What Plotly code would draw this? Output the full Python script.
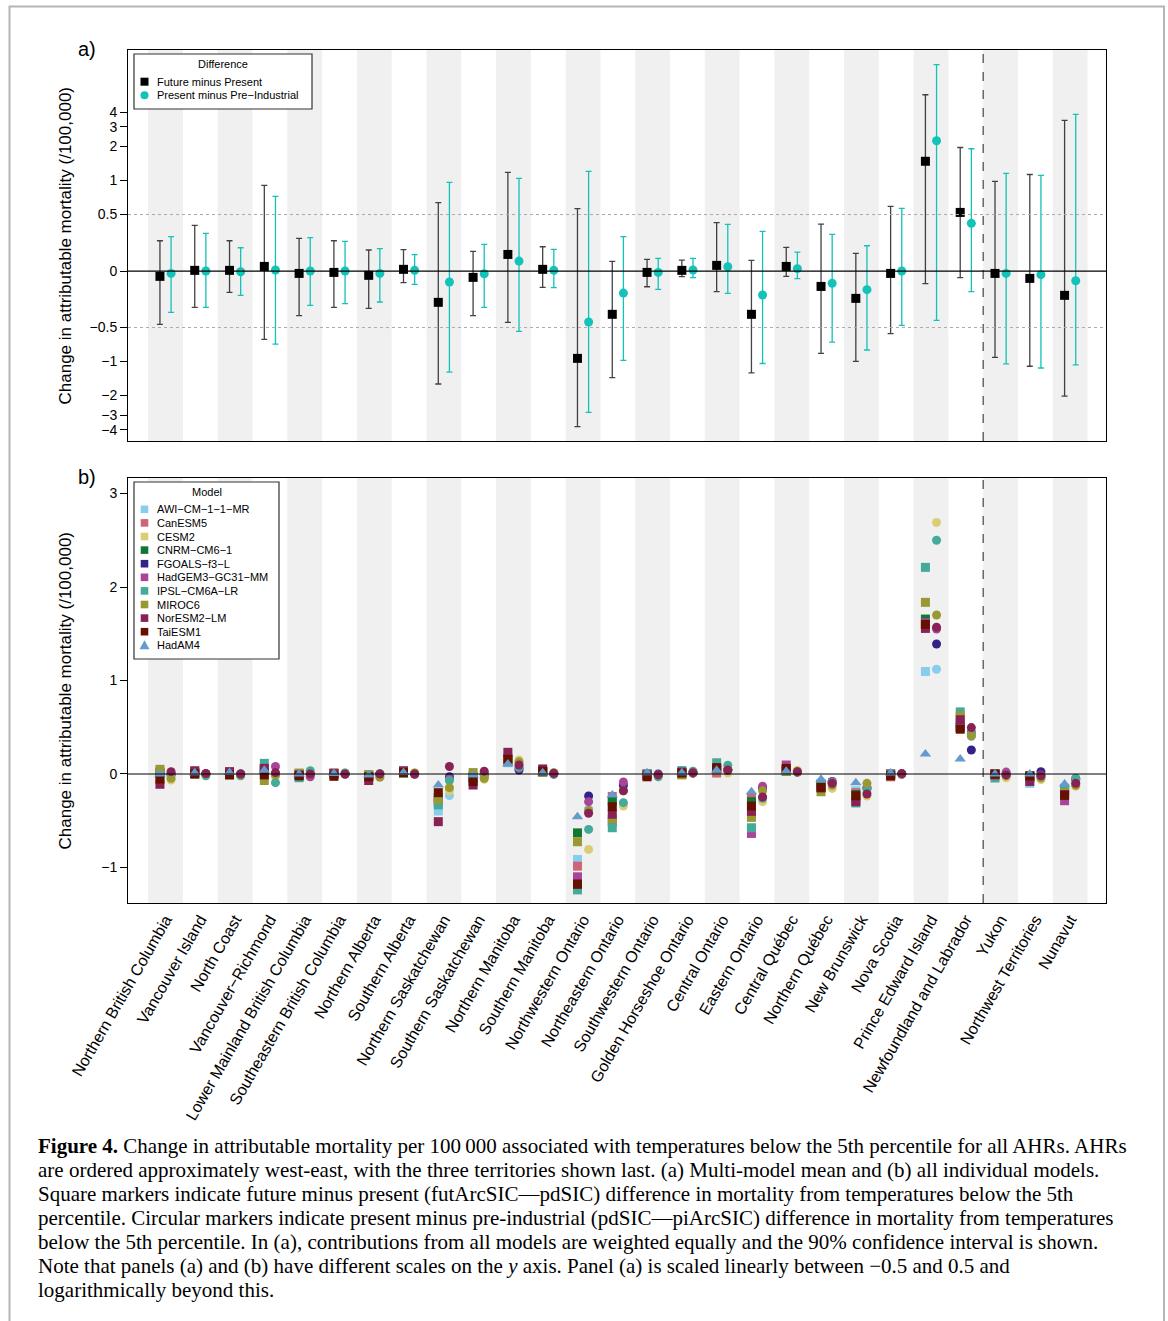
import numpy as np
import plotly.graph_objects as go

# ---------------- data ----------------
regions = ["Northern British Columbia", "Vancouver Island", "North Coast", "Vancouver\u2212Richmond",
           "Lower Mainland British Columbia", "Southeastern British Columbia", "Northern Alberta",
           "Southern Alberta", "Northern Saskatchewan", "Southern Saskatchewan", "Northern Manitoba",
           "Southern Manitoba", "Northwestern Ontario", "Northeastern Ontario", "Southwestern Ontario",
           "Golden Horseshoe Ontario", "Central Ontario", "Eastern Ontario", "Central Qu\u00e9bec",
           "Northern Qu\u00e9bec", "New Brunswick", "Nova Scotia", "Prince Edward Island",
           "Newfoundland and Labrador", "Yukon", "Northwest Territories", "Nunavut"]

# Panel a: multi-model mean and 90% CI
fut_mean = [-0.047, 0.006, 0.006, 0.041, -0.021, -0.012, -0.038, 0.015, -0.277, -0.056, 0.147, 0.015, -0.937,
            -0.383, -0.012, 0.006, 0.050, -0.383, 0.041, -0.136, -0.242, -0.021, 1.48, 0.522, -0.021, -0.065, -0.215]
fut_hi = [0.268, 0.404, 0.268, 0.906, 0.289, 0.268, 0.186, 0.189, 0.637, 0.174, 1.18, 0.215, 0.564,
          0.086, 0.103, 0.097, 0.428, 0.094, 0.209, 0.416, 0.156, 0.59, 5.74, 1.96, 0.984, 1.13, 3.40]
fut_lo = [-0.472, -0.322, -0.189, -0.637, -0.395, -0.322, -0.330, -0.103, -1.58, -0.395, -0.454, -0.145, -3.77,
          -1.39, -0.139, -0.050, -0.183, -1.26, -0.047, -0.847, -0.995, -0.567, -0.112, -0.059, -0.918, -1.10, -2.02]
pres_mean = [-0.021, 0.0, -0.006, 0.009, 0.0, 0.0, -0.021, 0.006, -0.097, -0.024, 0.088, 0.006, -0.451,
             -0.195, -0.012, 0.009, 0.038, -0.212, 0.021, -0.109, -0.165, 0.0, 2.25, 0.422, -0.021, -0.032, -0.086]
pres_hi = [0.304, 0.333, 0.206, 0.724, 0.295, 0.263, 0.198, 0.145, 0.963, 0.236, 1.045, 0.192, 1.205,
           0.304, 0.112, 0.112, 0.413, 0.351, 0.168, 0.324, 0.224, 0.567, 10.6, 1.91, 1.156, 1.11, 3.85]
pres_lo = [-0.366, -0.322, -0.215, -0.70, -0.304, -0.289, -0.274, -0.118, -1.24, -0.322, -0.54, -0.147, -2.82,
           -0.975, -0.162, -0.059, -0.198, -1.04, -0.068, -0.672, -0.79, -0.481, -0.437, -0.183, -1.05, -1.14, -1.07]

# Panel b: individual models
models = ["AWI\u2212CM\u22121\u22121\u2212MR", "CanESM5", "CESM2", "CNRM\u2212CM6\u22121", "FGOALS\u2212f3\u2212L",
          "HadGEM3\u2212GC31\u2212MM", "IPSL\u2212CM6A\u2212LR", "MIROC6", "NorESM2\u2212LM", "TaiESM1", "HadAM4"]
model_colors = ["#88CCEE", "#CC6677", "#DDCC77", "#117733", "#332288", "#AA4499", "#44AA99", "#999933",
                "#882255", "#661100", "#6699CC"]
model_symbols = ["square"] * 10 + ["triangle-up"]

# future minus present (squares); None = not available
fut_AWI = [0.0, 0.01, 0.0, 0.02, -0.02, 0.0, -0.02, 0.01, -0.396, -0.03, 0.12, 0.02, -0.914, -0.33, -0.01, 0.01,
           0.03, -0.30, 0.03, -0.10, -0.18, 0.0, 1.096, 0.50, -0.01, -0.10, -0.15]
fut_CanESM5 = [0.01, 0.0, 0.01, 0.03, 0.0, 0.0, -0.01, 0.02, -0.30, -0.02, 0.14, 0.03, -0.986, -0.24, 0.0, 0.0,
               0.01, -0.254, 0.04, -0.12, -0.20, -0.03, 1.58, 0.50, 0.0, -0.03, -0.20]
fut_CNRM = [0.02, 0.02, 0.0, 0.05, -0.01, 0.0, -0.02, 0.01, -0.25, -0.04, 0.15, 0.02, -0.63, -0.29, 0.0, 0.01,
            0.06, -0.296, 0.03, -0.11, -0.22, 0.0, 1.657, 0.50, 0.0, -0.02, -0.18]
fut_HadGEM3 = [0.0, 0.02, 0.02, 0.06, 0.0, 0.01, -0.03, 0.02, -0.29, -0.05, 0.17, 0.03, -1.10, -0.51, -0.01, 0.02,
               0.05, -0.636, 0.096, -0.13, -0.28, 0.0, 1.618, 0.543, 0.0, -0.04, -0.286]
fut_IPSL = [0.01, 0.0, 0.0, 0.114, -0.04, 0.0, -0.01, 0.01, -0.33, -0.03, 0.13, 0.02, -1.24, -0.575, 0.0, 0.036,
            0.12, -0.575, 0.04, -0.12, -0.31, 0.0, 2.21, 0.664, -0.043, -0.03, -0.157]
fut_MIROC6 = [0.05, 0.01, -0.01, -0.07, 0.01, 0.01, -0.01, 0.01, -0.27, 0.015, 0.14, 0.02, -0.725, -0.48, -0.01,
              -0.01, 0.04, -0.464, 0.03, -0.19, -0.25, -0.01, 1.836, 0.62, -0.01, -0.02, -0.20]
fut_NorESM2 = [-0.11, 0.035, 0.025, 0.06, -0.01, 0.005, -0.07, 0.035, -0.51, -0.118, 0.232, 0.054, -1.175, -0.43,
               -0.01, 0.02, 0.06, -0.40, 0.05, -0.15, -0.296, -0.01, 1.557, 0.58, -0.01, -0.08, -0.22]
fut_TaiESM1 = [-0.055, 0.0, -0.01, -0.01, -0.02, -0.025, -0.03, 0.015, -0.20, -0.08, 0.157, 0.03, -1.18, -0.35,
               -0.03, 0.01, 0.068, -0.343, 0.06, -0.143, -0.232, -0.02, 1.60, 0.479, 0.0, -0.02, -0.229]
fut_HadAM4 = [0.0, 0.014, 0.015, 0.04, 0.0, 0.005, -0.01, 0.015, -0.118, -0.01, 0.107, 0.014, -0.457, -0.225,
              0.014, 0.014, 0.04, -0.19, 0.03, -0.057, -0.093, 0.01, 0.214, 0.16, 0.0, 0.0, -0.107]

# present minus pre-industrial (circles)
pres_AWI = [-0.01, 0.0, -0.01, 0.0, 0.0, 0.0, 0.0, 0.0, -0.23, -0.02, 0.10, 0.01, -0.375, -0.16, -0.01, 0.01,
            0.04, -0.25, 0.02, -0.10, -0.20, 0.0, 1.12, 0.40, 0.0, -0.02, -0.08]
pres_CESM2 = [-0.064, 0.0, 0.0, -0.03, 0.0, 0.01, -0.03, 0.01, -0.18, -0.057, 0.15, 0.015, -0.807, -0.343, -0.01,
              0.01, 0.01, -0.296, 0.04, -0.154, -0.236, 0.0, 2.69, 0.42, -0.04, -0.06, -0.13]
pres_FGOALS = [0.0, 0.0, 0.0, 0.0, 0.0, 0.0, 0.0, 0.0, -0.03, 0.0, 0.043, 0.0, -0.236, -0.12, 0.0, 0.01,
               0.04, -0.15, 0.02, -0.08, -0.15, 0.0, 1.39, 0.257, 0.0, 0.025, -0.05]
pres_HadGEM3 = [0.0, 0.0, 0.0, 0.08, -0.03, 0.0, 0.0, 0.0, -0.05, 0.0, 0.06, 0.0, -0.296, -0.086, -0.01, 0.01,
                0.05, -0.13, 0.02, -0.08, -0.15, 0.0, 1.55, 0.45, 0.02, -0.01, -0.06]
pres_IPSL = [-0.01, -0.02, -0.02, -0.093, 0.035, 0.01, 0.0, 0.0, -0.07, -0.02, 0.07, 0.0, -0.593, -0.307, -0.03,
             0.03, 0.093, -0.26, 0.02, -0.09, -0.16, 0.0, 2.50, 0.43, -0.01, -0.03, -0.046]
pres_MIROC6 = [-0.046, 0.0, -0.01, -0.01, 0.0, 0.0, -0.035, 0.01, -0.146, -0.046, 0.13, 0.01, -0.39, -0.18, -0.01,
               0.01, 0.04, -0.18, 0.02, -0.12, -0.10, 0.0, 1.70, 0.407, -0.02, -0.04, -0.12]
pres_NorESM2 = [0.025, 0.005, 0.0, 0.015, 0.0, 0.0, 0.0, 0.0, 0.08, 0.03, 0.096, 0.007, -0.42, -0.18, -0.01,
                0.014, 0.043, -0.246, 0.025, -0.10, -0.214, 0.004, 1.57, 0.496, -0.01, -0.02, -0.10]

caption_lines = [
    "<b>Figure 4.</b> Change in attributable mortality per 100\u2009000 associated with temperatures below the 5th percentile for all AHRs. AHRs",
    "are ordered approximately west-east, with the three territories shown last. (a) Multi-model mean and (b) all individual models.",
    "Square markers indicate future minus present (futArcSIC\u2014pdSIC) difference in mortality from temperatures below the 5th",
    "percentile. Circular markers indicate present minus pre-industrial (pdSIC\u2014piArcSIC) difference in mortality from temperatures",
    "below the 5th percentile. In (a), contributions from all models are weighted equally and the 90% confidence interval is shown.",
    "Note that panels (a) and (b) have different scales on the <i>y</i> axis. Panel (a) is scaled linearly between \u22120.5 and 0.5 and",
    "logarithmically beyond this.",
]

# ---------------- helpers ----------------
W, H = 1168, 1321
SANS = "Liberation Sans, Arial, sans-serif"
SERIF = "Liberation Serif, Times New Roman, serif"
CYAN = "#13C2B8"


def px(x):
    return x / W


def py(y):
    return 1 - y / H


def symlog(v):
    v = np.asarray(v, dtype=float)
    a = np.abs(v)
    out = np.where(a <= 0.5, v, np.sign(v) * (0.5 + np.log10(np.maximum(a, 1e-9) / 0.5)))
    return out


def clean(lst):
    return [np.nan if v is None else v for v in lst]


idx = np.arange(len(regions))
OFF = 0.16

fig = go.Figure()

# ---------- panel a ----------
fm, fh, fl = symlog(fut_mean), symlog(fut_hi), symlog(fut_lo)
pm, ph, pl = symlog(pres_mean), symlog(pres_hi), symlog(pres_lo)

fig.add_trace(go.Scatter(
    x=idx - OFF, y=fm, mode="markers", xaxis="x", yaxis="y",
    marker=dict(symbol="square", size=9, color="black"),
    error_y=dict(type="data", symmetric=False, array=fh - fm, arrayminus=fm - fl,
                 color="rgba(20,20,20,0.8)", thickness=1.3, width=3),
    showlegend=False, name="Future minus Present"))
fig.add_trace(go.Scatter(
    x=idx + OFF, y=pm, mode="markers", xaxis="x", yaxis="y",
    marker=dict(symbol="circle", size=9, color=CYAN),
    error_y=dict(type="data", symmetric=False, array=ph - pm, arrayminus=pm - pl,
                 color=CYAN, thickness=1.3, width=3),
    showlegend=False, name="Present minus Pre-Industrial"))

# ---------- panel b ----------
fut_series = [fut_AWI, fut_CanESM5, None, fut_CNRM, None, fut_HadGEM3, fut_IPSL, fut_MIROC6, fut_NorESM2,
              fut_TaiESM1, fut_HadAM4]
pres_series = [pres_AWI, None, pres_CESM2, None, pres_FGOALS, pres_HadGEM3, pres_IPSL, pres_MIROC6, pres_NorESM2,
               None, None]

for k, name in enumerate(models):
    if fut_series[k] is not None:
        fig.add_trace(go.Scatter(
            x=idx - OFF, y=clean(fut_series[k]), mode="markers", xaxis="x2", yaxis="y2",
            marker=dict(symbol=model_symbols[k], size=9 if k < 10 else 10, color=model_colors[k]),
            showlegend=False, name=name))
for k, name in enumerate(models):
    if pres_series[k] is not None:
        fig.add_trace(go.Scatter(
            x=idx + OFF, y=clean(pres_series[k]), mode="markers", xaxis="x2", yaxis="y2",
            marker=dict(symbol="circle", size=9, color=model_colors[k]),
            showlegend=False, name=name))

# ---------- shapes ----------
shapes = []
for ax_x, ax_y in (("x", "y"), ("x2", "y2")):
    for i in idx[::2]:
        shapes.append(dict(type="rect", xref=ax_x, yref=ax_y + " domain", x0=i - 0.5, x1=i + 0.5, y0=0, y1=1,
                           fillcolor="#F0F0F0", line=dict(width=0), layer="below"))
    shapes.append(dict(type="line", xref=ax_x, yref=ax_y + " domain", x0=23.5, x1=23.5, y0=0, y1=1,
                       line=dict(color="#444", width=1.2, dash="dash")))
    shapes.append(dict(type="line", xref=ax_x + " domain", yref=ax_y, x0=0, x1=1, y0=0, y1=0,
                       line=dict(color="black", width=1.2)))
for v in (0.5, -0.5):
    shapes.append(dict(type="line", xref="x domain", yref="y", x0=0, x1=1, y0=float(symlog(v)), y1=float(symlog(v)),
                       line=dict(color="#AAAAAA", width=1, dash="dot")))

# page frame
shapes.append(dict(type="rect", xref="paper", yref="paper", x0=px(9.5), x1=px(1164), y0=-0.02, y1=py(6.5),
                   line=dict(color="#B5B5B5", width=2), fillcolor="rgba(0,0,0,0)"))

annotations = []

# legend a
shapes.append(dict(type="rect", xref="paper", yref="paper", x0=px(134), x1=px(312), y0=py(109), y1=py(54),
                   line=dict(color="#333", width=1.2), fillcolor="white"))
annotations.append(dict(text="Difference", x=px(223), y=py(64), xref="paper", yref="paper",
                        showarrow=False, xanchor="center", yanchor="middle", font=dict(size=11, color="black", family=SANS)))
leg_a = [("Future minus Present", "square", "black"), ("Present minus Pre\u2212Industrial", "circle", CYAN)]
for k, (lab, sym, col) in enumerate(leg_a):
    yc = 81.7 + 13.5 * k
    s = 4
    shapes.append(dict(type="rect" if sym == "square" else "circle", xref="paper", yref="paper",
                       x0=px(144.5 - s), x1=px(144.5 + s), y0=py(yc + s), y1=py(yc - s),
                       fillcolor=col, line=dict(width=0)))
    annotations.append(dict(text=lab, x=px(155), y=py(yc), xref="paper", yref="paper", showarrow=False,
                            xanchor="left", yanchor="middle", font=dict(size=11, color="black", family=SANS)))

# legend b
shapes.append(dict(type="rect", xref="paper", yref="paper", x0=px(134), x1=px(279), y0=py(659), y1=py(482),
                   line=dict(color="#333", width=1.2), fillcolor="white"))
annotations.append(dict(text="Model", x=px(206.5), y=py(492), xref="paper", yref="paper",
                        showarrow=False, xanchor="center", yanchor="middle", font=dict(size=11, color="black", family=SANS)))
for k, name in enumerate(models):
    yc = 509.3 + 13.6 * k
    s = 3.8
    if model_symbols[k] == "square":
        shapes.append(dict(type="rect", xref="paper", yref="paper", x0=px(144.5 - s), x1=px(144.5 + s),
                           y0=py(yc + s), y1=py(yc - s), fillcolor=model_colors[k], line=dict(width=0)))
    else:
        x0, x1, xm = px(144.5 - 5), px(144.5 + 5), px(144.5)
        yb, yt = py(yc + 4), py(yc - 5)
        shapes.append(dict(type="path", xref="paper", yref="paper",
                           path=f"M {x0} {yb} L {x1} {yb} L {xm} {yt} Z",
                           fillcolor=model_colors[k], line=dict(width=0)))
    annotations.append(dict(text=name, x=px(155), y=py(yc), xref="paper", yref="paper", showarrow=False,
                            xanchor="left", yanchor="middle", font=dict(size=11, color="black", family=SANS)))

# panel labels and y titles
for lab, yc in (("a)", 49), ("b)", 477)):
    annotations.append(dict(text=lab, x=px(87), y=py(yc), xref="paper", yref="paper", showarrow=False,
                            xanchor="center", yanchor="middle", font=dict(size=20, color="black", family=SANS)))
for yc in (245.5, 690.5):
    annotations.append(dict(text="Change in attributable mortality (/100,000)", x=px(65), y=py(yc),
                            xref="paper", yref="paper", showarrow=False, textangle=-90,
                            xanchor="center", yanchor="middle", font=dict(size=17, color="black", family=SANS)))

# caption
for k, line in enumerate(caption_lines):
    annotations.append(dict(text=line, x=px(36), y=py(1146 + 24 * k), xref="paper", yref="paper",
                            showarrow=False, xanchor="left", yanchor="middle", align="left",
                            font=dict(size=21, color="black", family=SERIF)))

XR = [-1.078, 27.03]
tick_a_vals = [-4, -3, -2, -1, -0.5, 0, 0.5, 1, 2, 3, 4]
tick_a_text = ["\u22124", "\u22123", "\u22122", "\u22121", "\u22120.5", "0", "0.5", "1", "2", "3", "4"]
tick_b_vals = [-1, 0, 1, 2, 3]
tick_b_text = ["\u22121", "0", "1", "2", "3"]

axis_common = dict(showline=True, mirror=True, linecolor="black", linewidth=1, showgrid=False, zeroline=False,
                   automargin=False)

fig.update_layout(
    width=W, height=H,
    margin=dict(l=0, r=0, t=0, b=0, pad=0, autoexpand=False),
    paper_bgcolor="white", plot_bgcolor="white",
    showlegend=False,
    font=dict(family=SANS, color="black"),
    xaxis=dict(domain=[px(128), px(1106)], range=XR, anchor="y", showticklabels=False, ticks="", **axis_common),
    yaxis=dict(domain=[py(441), py(50)], range=[-1.504, 1.956], anchor="x",
               tickmode="array", tickvals=symlog(tick_a_vals).tolist(), ticktext=tick_a_text,
               ticks="outside", ticklen=7, tickcolor="black", tickfont=dict(size=14, family=SANS, color="black"),
               **axis_common),
    xaxis2=dict(domain=[px(128), px(1106)], range=XR, anchor="y2", tickmode="array",
                tickvals=idx.tolist(), ticktext=regions, tickangle=-60, ticks="",
                tickfont=dict(size=16, family=SANS, color="black"), **axis_common),
    yaxis2=dict(domain=[py(903), py(478)], range=[-1.380, 3.166], anchor="x2",
                tickmode="array", tickvals=tick_b_vals, ticktext=tick_b_text,
                ticks="outside", ticklen=7, tickcolor="black", tickfont=dict(size=14, family=SANS, color="black"),
                **axis_common),
    shapes=shapes,
    annotations=annotations,
)

fig.write_html("out.html", config={"displayModeBar": False},
               post_script="document.body.style.margin='0';document.body.style.overflow='hidden';")
